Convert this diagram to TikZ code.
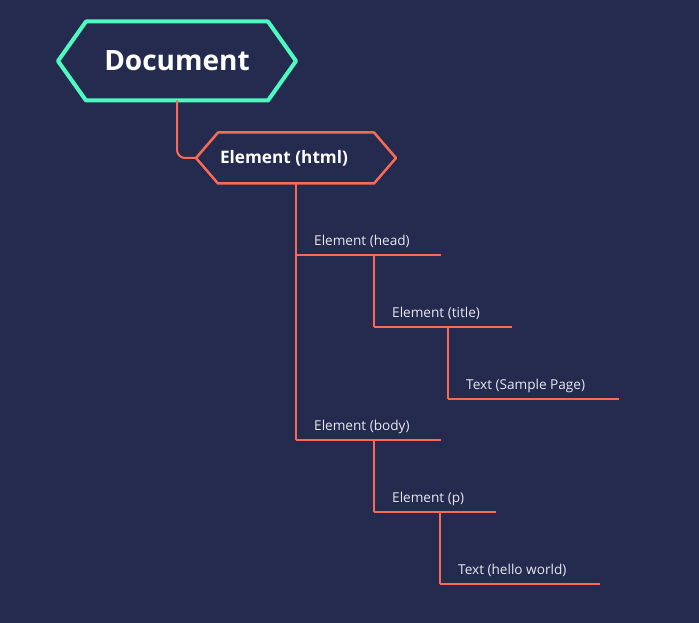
\documentclass[tikz,border=0pt]{standalone}
\usepackage{fontspec}
\setmainfont{Open Sans}
\definecolor{bgblue}{HTML}{252B4F}
\definecolor{mint}{HTML}{4FFAC0}
\definecolor{coral}{HTML}{F96A55}
\definecolor{labelgray}{HTML}{E6E8F0}
\tikzset{
  hexbox/.style={inner sep=0pt, outer sep=0pt, text=white, font=\bfseries},
  link/.style={coral, line width=2pt},
  lbl/.style={text=labelgray, inner sep=0pt, font=\fontsize{13.6}{16}\selectfont},
}
\begin{document}
\begin{tikzpicture}[x=1pt, y=-1pt, line join=round]
			\fill[bgblue] (0,0) rectangle (699,623);
			\useasboundingbox (0,0) rectangle (699,623);
			% the two hexagons
			\node[hexbox, minimum width=238pt, minimum height=79pt, font=\fontsize{28}{32}\bfseries] (doc) at (177,61) {Document};
			\draw[mint, line width=4pt] (doc.west) -- ([xshift=28pt]doc.north west) -- ([xshift=-28pt]doc.north east)
			  -- (doc.east) -- ([xshift=-28pt]doc.south east) -- ([xshift=28pt]doc.south west) -- cycle;
			\node[hexbox, minimum width=200pt, minimum height=51pt, font=\fontsize{17.2}{20}\bfseries] (html) at (296,158) {Element (html)\hspace*{24pt}};
			\draw[coral, line width=2.5pt] (html.west) -- ([xshift=22pt]html.north west) -- ([xshift=-22pt]html.north east)
			  -- (html.east) -- ([xshift=-22pt]html.south east) -- ([xshift=22pt]html.south west) -- cycle;
			\draw[link, rounded corners=8pt] (doc.south) |- (html.west);
			% tree items: name / x / y / length / text
			\foreach \nm/\x/\y/\len/\txt in {head/296/255/145/{Element (head)}, title/374/327/138/{Element (title)},
			  sample/448/399/171/{Text (Sample Page)}, body/296/440/145/{Element (body)},
			  par/374/512/122/{Element (p)}, hello/440/584/160/{Text (hello world)}}{
			  \coordinate (\nm L) at (\x,\y);
			  \coordinate (\nm R) at (\x+\len,\y);
			  \node[lbl, anchor=base west] (\nm) at (\x+18,\y-9.5) {\txt};
			  \draw[link] (\nm L) -- (\nm R);
			}
			\draw[link] (html.south) -- (html.south |- bodyL);
			\draw[link] (headL -| titleL) -- (titleL);
			\draw[link] (titleL -| sampleL) -- (sampleL);
			\draw[link] (bodyL -| parL) -- (parL);
			\draw[link] (parL -| helloL) -- (helloL);
		\end{tikzpicture}
\end{document}
